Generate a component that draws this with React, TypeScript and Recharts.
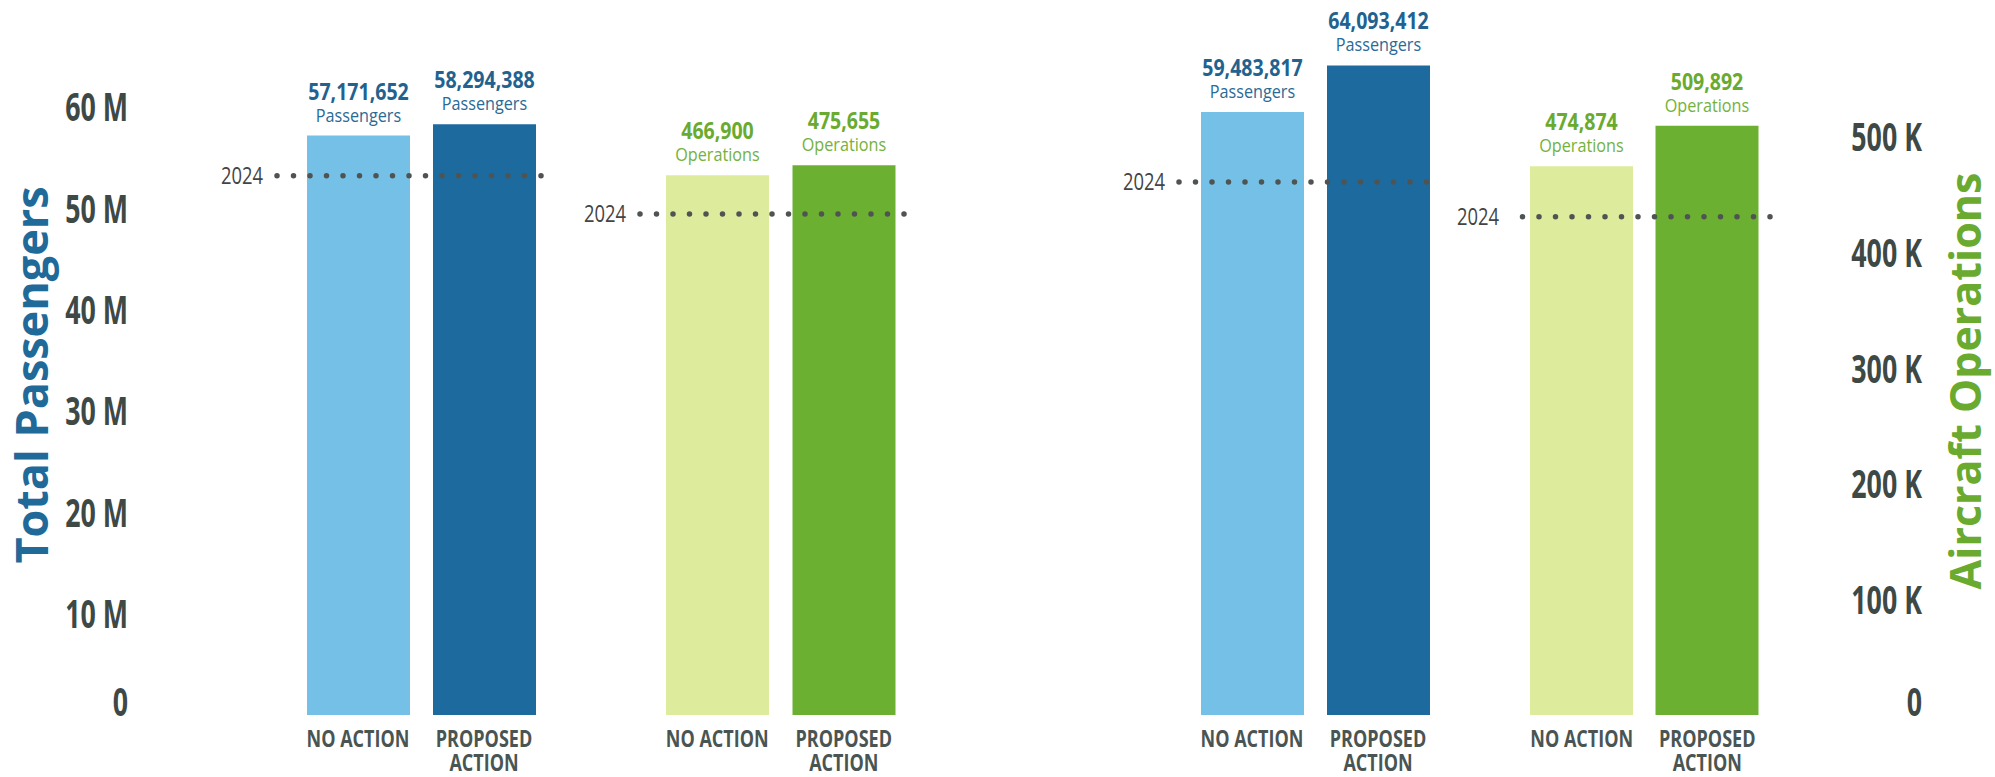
import { BarChart, Bar, XAxis, YAxis, ReferenceLine, LabelList, Cell, Label } from "recharts";

const categories = ["NO ACTION", "PROPOSED ACTION"];
const categoryLines = [["NO ACTION"], ["PROPOSED", "ACTION"]];

const paxLeft = [57171652, 58294388];
const opsLeft = [466900, 475655];
const paxRight = [59483817, 64093412];
const opsRight = [474874, 509892];

// 2024 dotted reference
const pax2024 = [53200000, 52600000];
const ops2024 = [433500, 431000];

const paxTicks = [0, 10000000, 20000000, 30000000, 40000000, 50000000, 60000000];
const opsTicks = [0, 100000, 200000, 300000, 400000, 500000];

const PAX_MAX = 66600000;
const OPS_MAX = 584000;

const FONT = "'Open Sans', 'DejaVu Sans', sans-serif";
const AXIS_TEXT = "#3e4845";

const BLUES = ["#74c0e6", "#1d6a9f"];
const GREENS = ["#dcec9c", "#6cb031"];

const fmtPax = (v: number) => (v === 0 ? "0" : `${v / 1000000} M`);
const fmtOps = (v: number) => (v === 0 ? "0" : `${v / 1000} K`);

// condensed look: the reference uses a narrow face, squeeze Open Sans horizontally
function CText({ x, y, sx, anchor = "middle", dy, children, ...rest }: any) {
  return (
    <text transform={`translate(${x},${y}) scale(${sx},1)`} x={0} y={0} dy={dy} textAnchor={anchor} fontFamily={FONT} {...rest}>
      {children}
    </text>
  );
}

function CategoryTick(props: any) {
  const { x, y, index } = props;
  const lines = categoryLines[index] ?? [String(props.payload?.value)];
  return (
    <CText x={x} y={y + 32} sx={0.75} fontWeight="bold" fontSize={24} fill="#4a5553">
      {lines.map((line, i) => (
        <tspan key={line} x={0} dy={i === 0 ? 0 : 24}>
          {line}
        </tspan>
      ))}
    </CText>
  );
}

function AxisTick(props: any) {
  const { x, y, payload, fmt } = props;
  const lift = payload.value === 0 ? -13 : 0;
  return (
    <CText x={x} y={y + lift} sx={0.67} anchor="end" dy="0.36em" fontWeight="bold" fontSize={40} fill={AXIS_TEXT}>
      {fmt(payload.value)}
    </CText>
  );
}

const valueLabel = (unit: string, numColor: string, unitColor: string) => (props: any) => {
  const vb = props.viewBox ?? props;
  const x = vb.x ?? props.x;
  const y = vb.y ?? props.y;
  const w = vb.width ?? props.width;
  const cx = x + w / 2;
  return (
    <g>
      <CText x={cx} y={y - 36} sx={0.85} fontWeight="bold" fontSize={23} fill={numColor}>
        {Number(props.value).toLocaleString("en-US")}
      </CText>
      <CText x={cx} y={y - 14} sx={0.9} fontSize={18} fill={unitColor}>
        {unit}
      </CText>
    </g>
  );
};

const yearLabel = (props: any) => {
  const vb = props.viewBox ?? {};
  return (
    <CText x={vb.x - 14} y={vb.y + (vb.height || 0) / 2} dy="0.36em" sx={0.8} anchor="end" fontSize={23} fill="#444">
      2024
    </CText>
  );
};

type PanelProps = {
  left: number;
  width: number;
  marginLeft: number;
  marginRight: number;
  values: number[];
  max: number;
  refValue: number;
  colors: string[];
  unit: string;
  numColor: string;
  unitColor: string;
  pad: { left: number; right: number };
  axis?: "left" | "right";
  ticks: number[];
  fmt: (v: number) => string;
  axisWidth?: number;
  tickMargin?: number;
  title?: { text: string; x: number; y: number; color: string; size: number };
};

function Panel(p: PanelProps) {
  const data = categories.map((name, i) => ({ name, value: p.values[i] }));
  return (
    <div style={{ position: "absolute", left: p.left, top: 0 }}>
      <BarChart
        width={p.width}
        height={777}
        data={data}
        margin={{ top: 40, right: p.marginRight, bottom: 0, left: p.marginLeft }}
      >
        <XAxis
          dataKey="name"
          axisLine={false}
          tickLine={false}
          tickSize={0}
          tickMargin={0}
          height={62}
          interval={0}
          padding={p.pad}
          tick={<CategoryTick />}
        />
        <YAxis
          domain={[0, p.max]}
          ticks={p.ticks}
          hide={!p.axis}
          orientation={p.axis ?? "left"}
          width={p.axisWidth ?? 60}
          axisLine={false}
          tickLine={false}
          tickSize={0}
          tickMargin={p.tickMargin ?? 0}
          interval={0}
          tick={<AxisTick fmt={p.fmt} />}
        >
          {p.title && (
            <Label
              content={() => (
                <text
                  x={p.title!.x}
                  y={p.title!.y}
                  transform={`rotate(-90, ${p.title!.x}, ${p.title!.y})`}
                  textAnchor="middle"
                  fontFamily={FONT}
                  fontWeight="bold"
                  fontSize={p.title!.size}
                  fill={p.title!.color}
                >
                  {p.title!.text}
                </text>
              )}
            />
          )}
        </YAxis>
        <Bar dataKey="value" barSize={103} isAnimationActive={false}>
          {data.map((d, i) => (
            <Cell key={d.name} fill={p.colors[i]} />
          ))}
          <LabelList dataKey="value" content={valueLabel(p.unit, p.numColor, p.unitColor)} />
        </Bar>
        <ReferenceLine
          y={p.refValue}
          stroke="#4f5452"
          strokeWidth={5.5}
          strokeDasharray="0 16.5"
          strokeLinecap="round"
          label={yearLabel}
        />
      </BarChart>
    </div>
  );
}

export default function App() {
  return (
    <div style={{ position: "absolute", left: 0, top: 0, width: 1995, height: 777, background: "#fff", overflow: "hidden" }}>
      <Panel
        left={0}
        width={552}
        marginLeft={0}
        marginRight={4}
        values={paxLeft}
        max={PAX_MAX}
        refValue={pax2024[0]}
        colors={BLUES}
        unit="Passengers"
        numColor="#22628f"
        unitColor="#2a6a96"
        pad={{ left: 18, right: 1 }}
        axis="left"
        axisWidth={277}
        tickMargin={149}
        ticks={paxTicks}
        fmt={fmtPax}
        title={{ text: "Total Passengers", x: 48, y: 375, color: "#1f6a99", size: 45 }}
      />
      <Panel
        left={560}
        width={352}
        marginLeft={80}
        marginRight={4}
        values={opsLeft}
        max={OPS_MAX}
        refValue={ops2024[0]}
        colors={GREENS}
        unit="Operations"
        numColor="#6aab2f"
        unitColor="#74b23c"
        pad={{ left: 14, right: 1 }}
        ticks={opsTicks}
        fmt={fmtOps}
      />
      <Panel
        left={1099}
        width={346}
        marginLeft={80}
        marginRight={4}
        values={paxRight}
        max={PAX_MAX}
        refValue={pax2024[1]}
        colors={BLUES}
        unit="Passengers"
        numColor="#22628f"
        unitColor="#2a6a96"
        pad={{ left: 10, right: 0 }}
        ticks={paxTicks}
        fmt={fmtPax}
      />
      <Panel
        left={1433}
        width={562}
        marginLeft={80}
        marginRight={0}
        values={opsRight}
        max={OPS_MAX}
        refValue={ops2024[1]}
        colors={GREENS}
        unit="Operations"
        numColor="#6aab2f"
        unitColor="#74b23c"
        pad={{ left: 6, right: 0 }}
        axis="right"
        axisWidth={225}
        tickMargin={152}
        ticks={opsTicks}
        fmt={fmtOps}
        title={{ text: "Aircraft Operations", x: 548, y: 381, color: "#6aaa2f", size: 43 }}
      />
    </div>
  );
}
